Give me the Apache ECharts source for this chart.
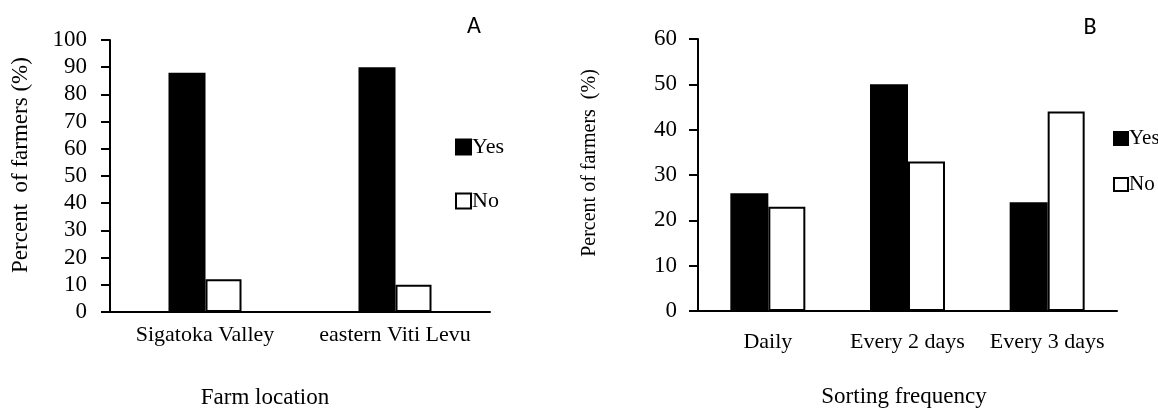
<!DOCTYPE html>
<html>
<head>
<meta charset="utf-8">
<script src="https://cdn.jsdelivr.net/npm/echarts@6/dist/echarts.min.js"></script>
<style>
html,body{margin:0;padding:0;background:#fff;}
#c{width:1158px;height:410px;}
</style>
</head>
<body>
<div id="c"></div>
<script>
// Panel A data
const locations = ['Sigatoka Valley', 'eastern Viti Levu'];
const locYes = [88, 90];
const locNo = [12, 10];
const ticksA = [0, 10, 20, 30, 40, 50, 60, 70, 80, 90, 100];
// Panel B data
const frequencies = ['Daily', 'Every 2 days', 'Every 3 days'];
const freqYes = [26, 50, 24];
const freqNo = [23, 33, 44];
const ticksB = [0, 10, 20, 30, 40, 50, 60];

const SERIF = '"Liberation Serif", "DejaVu Serif", serif';
const SANS = 'Carlito, "Liberation Sans", sans-serif';
const axisLine = {show: true, lineStyle: {color: '#000', width: 2}};
const yesStyle = {color: '#000', borderColor: '#000', borderWidth: 1.5};
const noStyle = {color: '#fff', borderColor: '#000', borderWidth: 2};

const chart = echarts.init(document.getElementById('c'), null, {renderer: 'canvas'});
chart.setOption({
  animation: false,
  backgroundColor: '#fff',
  graphic: [
    {type: 'text', x: 474, y: 27, style: {text: 'A', font: '24px ' + SANS, fill: '#000', textAlign: 'center', textVerticalAlign: 'middle'}},
    {type: 'text', x: 1090, y: 28, style: {text: 'B', font: '24px ' + SANS, fill: '#000', textAlign: 'center', textVerticalAlign: 'middle'}},
    {type: 'text', x: 265, y: 398, style: {text: 'Farm location', font: '23px ' + SERIF, fill: '#000', textAlign: 'center', textVerticalAlign: 'middle'}},
    {type: 'text', x: 904, y: 397, style: {text: 'Sorting frequency', font: '23px ' + SERIF, fill: '#000', textAlign: 'center', textVerticalAlign: 'middle'}},
    {type: 'text', x: 21, y: 165, rotation: Math.PI / 2, style: {text: 'Percent  of farmers (%)', font: '23px ' + SERIF, fill: '#000', textAlign: 'center', textVerticalAlign: 'middle'}},
    {type: 'text', x: 590, y: 163, rotation: Math.PI / 2, style: {text: 'Percent of farmers  (%)', font: '20px ' + SERIF, fill: '#000', textAlign: 'center', textVerticalAlign: 'middle'}}
  ],
  legend: [
    {data: ['Yes', 'No'], orient: 'vertical', left: 450, top: 131, icon: 'rect', itemWidth: 15, itemHeight: 15, itemGap: 32,
     textStyle: {fontFamily: SERIF, fontSize: 22, color: '#000', padding: [0, 0, 0, -4]}, selectedMode: false},
    {data: ['Yes', 'No'], orient: 'vertical', left: 1108, top: 123, icon: 'rect', itemWidth: 14, itemHeight: 13, itemGap: 25,
     textStyle: {fontFamily: SERIF, fontSize: 21, color: '#000', padding: [0, 0, 0, -4]}, selectedMode: false}
  ],
  grid: [
    {left: 110, right: 668, top: 40, bottom: 98, containLabel: false},
    {left: 698, right: 41, top: 39, bottom: 99, containLabel: false}
  ],
  xAxis: [
    {type: 'category', gridIndex: 0, data: locations, axisLine: axisLine, axisTick: {show: false},
     axisLabel: {interval: 0, fontFamily: SERIF, fontSize: 22, color: '#000', margin: 12}},
    {type: 'category', gridIndex: 1, data: frequencies, axisLine: axisLine, axisTick: {show: false},
     axisLabel: {interval: 0, fontFamily: SERIF, fontSize: 22, color: '#000', margin: 20}}
  ],
  yAxis: [
    {type: 'value', gridIndex: 0, min: ticksA[0], max: ticksA[ticksA.length - 1], interval: 10,
     axisLine: axisLine, axisTick: {show: true, length: 9, lineStyle: {color: '#000', width: 2}},
     splitLine: {show: false},
     axisLabel: {fontFamily: SERIF, fontSize: 23, color: '#000', margin: 23}},
    {type: 'value', gridIndex: 1, min: ticksB[0], max: ticksB[ticksB.length - 1], interval: 10,
     axisLine: axisLine, axisTick: {show: true, length: 9, lineStyle: {color: '#000', width: 2}},
     splitLine: {show: false},
     axisLabel: {fontFamily: SERIF, fontSize: 23, color: '#000', margin: 21}}
  ],
  series: [
    {name: 'Yes', type: 'bar', xAxisIndex: 0, yAxisIndex: 0, data: locYes, barWidth: 37, barGap: '0%', itemStyle: yesStyle},
    {name: 'No', type: 'bar', xAxisIndex: 0, yAxisIndex: 0, data: locNo, barWidth: 36, barGap: '0%', itemStyle: noStyle},
    {name: 'Yes', type: 'bar', xAxisIndex: 1, yAxisIndex: 1, data: freqYes, barWidth: 38, barGap: '0%', itemStyle: yesStyle},
    {name: 'No', type: 'bar', xAxisIndex: 1, yAxisIndex: 1, data: freqNo, barWidth: 37, barGap: '0%', itemStyle: noStyle}
  ]
});
</script>
</body>
</html>
